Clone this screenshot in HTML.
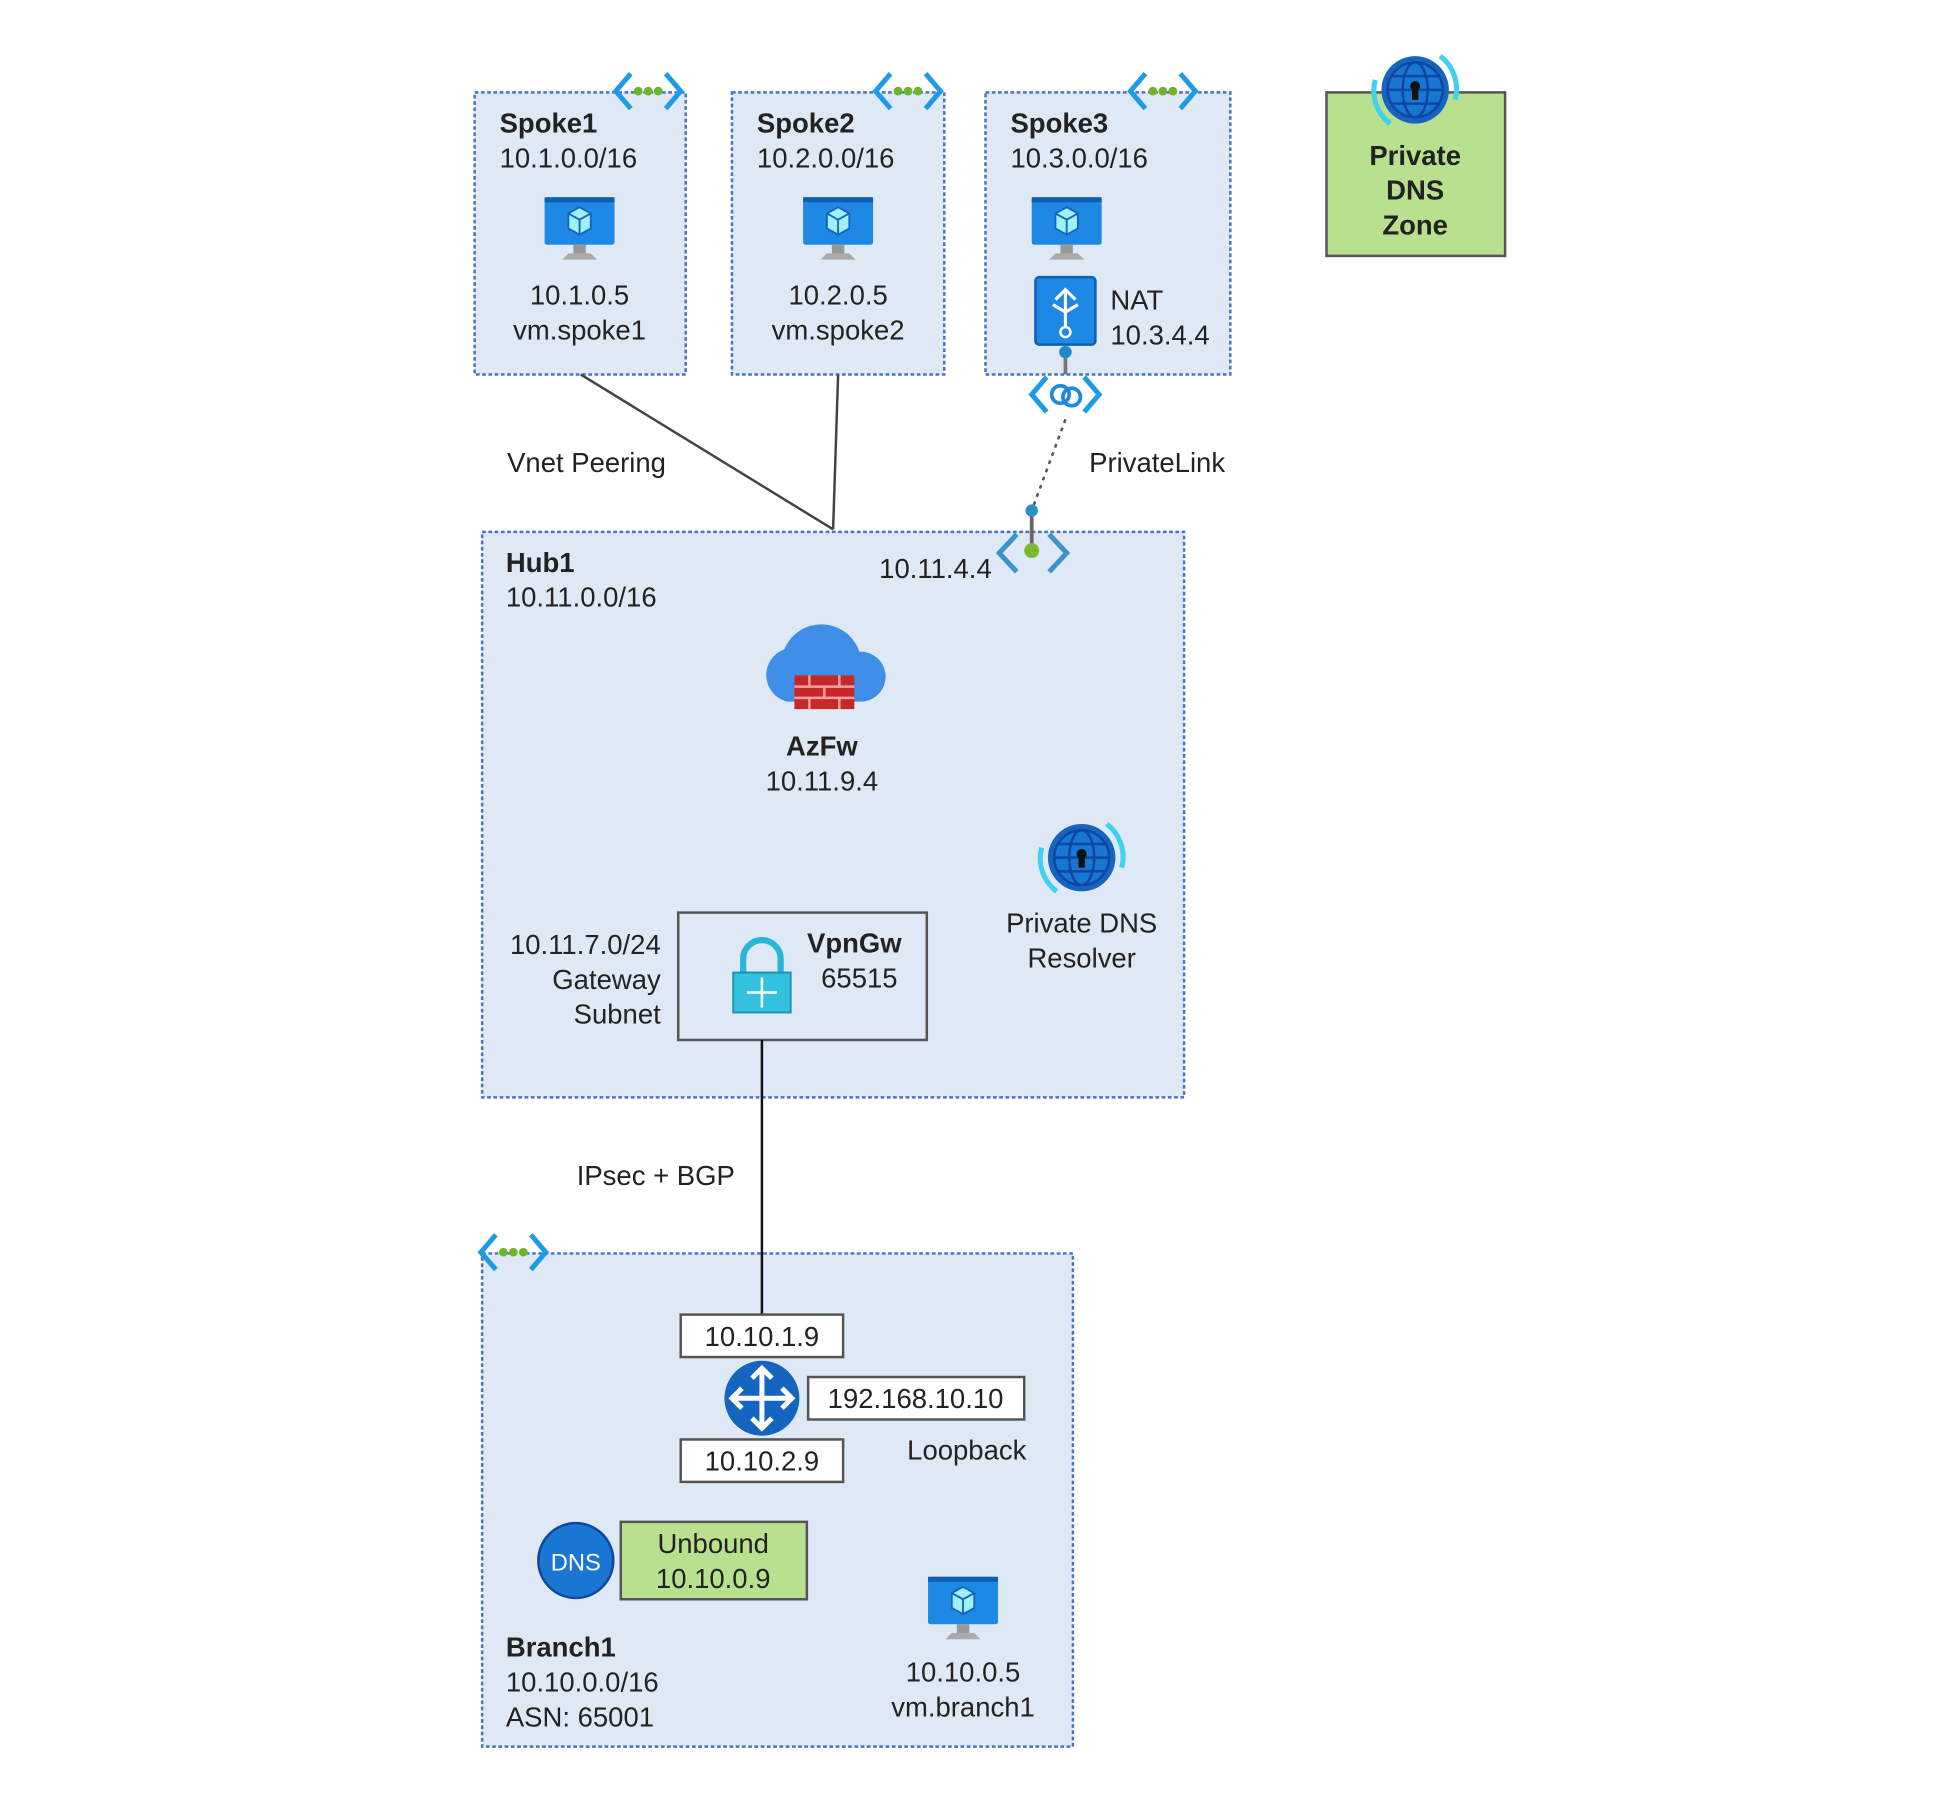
<!DOCTYPE html>
<html><head><meta charset="utf-8"><style>
html,body{margin:0;padding:0;background:#fff}
svg{display:block}
text{font-family:"Liberation Sans",sans-serif;fill:#222;font-size:22px}
.b{font-weight:bold}
</style></head><body>
<svg width="1956" height="1804" viewBox="0 0 1566 1445" preserveAspectRatio="none" xmlns="http://www.w3.org/2000/svg">
<defs>
<g id="vm">
<rect x="-28" y="-22" width="56" height="38" rx="2" fill="#1e88e5"/>
<rect x="-28" y="-22" width="56" height="4" fill="#0d5fb0"/>
<path d="M0,-14 L9,-9 L9,3 L0,8 L-9,3 L-9,-9Z" fill="#9ff0f8" stroke="#1565c0" stroke-width="1.5"/>
<path d="M-9,-9 L0,-4 L9,-9 M0,-4 L0,8" stroke="#1565c0" stroke-width="1.5" fill="none"/>
<rect x="-5" y="16" width="10" height="8" fill="#999"/>
<path d="M-14,28 L-9,23 L9,23 L14,28Z" fill="#aaa"/>
</g>
<g id="vnet">
<path d="M-14,-14 L-26,0 L-14,14" stroke="#1e9be8" stroke-width="4" fill="none"/>
<path d="M14,-14 L26,0 L14,14" stroke="#1e9be8" stroke-width="4" fill="none"/>
<circle cx="-8" cy="0" r="3.5" fill="#6fb52c"/><circle cx="0" cy="0" r="3.5" fill="#6fb52c"/><circle cx="8" cy="0" r="3.5" fill="#6fb52c"/>
</g>
<g id="globe">
<circle r="27" fill="#1565c0"/>
<circle r="22" fill="#1976d2" stroke="#0d47a1" stroke-width="2"/>
<ellipse rx="10" ry="22" fill="none" stroke="#0d47a1" stroke-width="2"/>
<path d="M-22,0 H22 M-19,-11 H19 M-19,11 H19" stroke="#0d47a1" stroke-width="2"/>
<circle cy="-3" r="4" fill="#111"/><rect x="-2.5" y="-2" width="5" height="10" fill="#111"/>
<path d="M-32,-8 A33,33 0 0 0 -20,27" stroke="#40d0f0" stroke-width="4" fill="none"/>
<path d="M32,8 A33,33 0 0 0 20,-27" stroke="#40d0f0" stroke-width="4" fill="none"/>
</g>
</defs>

<g fill="#dfe9f5" stroke="#4a72c8" stroke-width="2" stroke-dasharray="3,2">
<rect x="380" y="74" width="169" height="226"/>
<rect x="586" y="74" width="170" height="226"/>
<rect x="789" y="74" width="196" height="226"/>
<rect x="386" y="426" width="562" height="453"/>
<rect x="386" y="1004" width="473" height="395"/>
</g>
<use href="#vnet" x="519" y="73"/>
<use href="#vnet" x="727" y="73"/>
<use href="#vnet" x="931" y="73"/>
<use href="#vnet" x="411" y="1003"/>

<text x="400" y="106" class="b">Spoke1</text><text x="400" y="134">10.1.0.0/16</text>
<use href="#vm" x="464" y="180"/>
<text x="464" y="244" text-anchor="middle">10.1.0.5</text><text x="464" y="272" text-anchor="middle">vm.spoke1</text>

<text x="606" y="106" class="b">Spoke2</text><text x="606" y="134">10.2.0.0/16</text>
<use href="#vm" x="671" y="180"/>
<text x="671" y="244" text-anchor="middle">10.2.0.5</text><text x="671" y="272" text-anchor="middle">vm.spoke2</text>

<text x="809" y="106" class="b">Spoke3</text><text x="809" y="134">10.3.0.0/16</text>
<use href="#vm" x="854" y="180"/>
<rect x="829" y="222" width="48" height="54" rx="3" fill="#1e88e5" stroke="#0d5fb0" stroke-width="2"/>
<path d="M853,232 V262 M845,240 L853,232 L861,240 M853,250 L843,244 M853,250 L863,244" stroke="#fff" stroke-width="2.5" fill="none"/>
<circle cx="853" cy="266" r="4" fill="none" stroke="#fff" stroke-width="2"/>
<text x="889" y="248">NAT</text><text x="889" y="276">10.3.4.4</text>

<rect x="1062" y="74" width="143" height="131" fill="#b9e08e" stroke="#555" stroke-width="2"/>
<use href="#globe" x="1133" y="72"/>
<text x="1133" y="132" class="b" text-anchor="middle">Private</text>
<text x="1133" y="160" class="b" text-anchor="middle">DNS</text>
<text x="1133" y="188" class="b" text-anchor="middle">Zone</text>

<path d="M465,300 L667,424 M671,300 L667,424" stroke="#444" stroke-width="2" fill="none"/>
<text x="406" y="378">Vnet Peering</text>

<path d="M853,282 V300" stroke="#777" stroke-width="3"/>
<circle cx="853" cy="282" r="5" fill="#1e88c8"/>
<path d="M838,302 L826,316 L838,330 M868,302 L880,316 L868,330" stroke="#1e9be8" stroke-width="4" fill="none"/>
<circle cx="849" cy="316" r="7" fill="none" stroke="#1e88e5" stroke-width="3"/><circle cx="858" cy="318" r="7" fill="none" stroke="#1e88e5" stroke-width="3"/>
<path d="M853,336 L826,409" stroke="#555" stroke-width="2" stroke-dasharray="3,4"/>
<text x="872" y="378">PrivateLink</text>
<path d="M826,409 V441" stroke="#666" stroke-width="3"/>
<circle cx="826" cy="409" r="5" fill="#2d8fc8"/>
<path d="M814,428 L800,443 L814,458 M840,428 L854,443 L840,458" stroke="#3a94c8" stroke-width="4" fill="none"/>
<circle cx="826" cy="441" r="6" fill="#7cb82f"/>

<text x="405" y="458" class="b">Hub1</text><text x="405" y="486">10.11.0.0/16</text>
<text x="794" y="463" text-anchor="end">10.11.4.4</text>
<path d="M630,562 A22,22 0 0 1 628,520 A32,32 0 0 1 688,522 A20,20 0 0 1 690,562Z" fill="#3f8fe8"/>
<rect x="636" y="541" width="48" height="27" fill="#c62828"/>
<path d="M636,550 H684 M636,559 H684 M648,541 V550 M672,541 V550 M660,550 V559 M648,559 V568 M672,559 V568" stroke="#ff9ea0" stroke-width="2"/>
<text x="658" y="605" class="b" text-anchor="middle">AzFw</text>
<text x="658" y="633" text-anchor="middle">10.11.9.4</text>
<use href="#globe" x="866" y="687"/>
<text x="866" y="747" text-anchor="middle">Private DNS</text>
<text x="866" y="775" text-anchor="middle">Resolver</text>
<text x="529" y="764" text-anchor="end">10.11.7.0/24</text>
<text x="529" y="792" text-anchor="end">Gateway</text>
<text x="529" y="820" text-anchor="end">Subnet</text>
<rect x="543" y="731" width="199" height="102" fill="none" stroke="#555" stroke-width="2"/>
<path d="M595,780 V768 A15,15 0 0 1 625,768 V780" stroke="#29b6d8" stroke-width="5" fill="none"/>
<rect x="587" y="779" width="46" height="32" fill="#32c2e0" stroke="#1b8fb0" stroke-width="1.5"/>
<path d="M610,783 V807 M598,795 H622" stroke="#fff" stroke-width="2"/>
<text x="684" y="763" class="b" text-anchor="middle">VpnGw</text>
<text x="688" y="791" text-anchor="middle">65515</text>

<path d="M610,833 V1053" stroke="#111" stroke-width="2"/>
<text x="525" y="949" text-anchor="middle">IPsec + BGP</text>

<g fill="#fff" stroke="#555" stroke-width="2">
<rect x="545" y="1053" width="130" height="34"/>
<rect x="647" y="1103" width="173" height="34"/>
<rect x="545" y="1153" width="130" height="34"/>
</g>
<text x="610" y="1078" text-anchor="middle">10.10.1.9</text>
<text x="733" y="1128" text-anchor="middle">192.168.10.10</text>
<text x="610" y="1178" text-anchor="middle">10.10.2.9</text>
<text x="774" y="1169" text-anchor="middle">Loopback</text>
<circle cx="610" cy="1120" r="30" fill="#1565c0"/>
<path d="M610,1096 V1144 M586,1120 H634 M602,1104 L610,1096 L618,1104 M602,1136 L610,1144 L618,1136 M594,1112 L586,1120 L594,1128 M626,1112 L634,1120 L626,1128" stroke="#fff" stroke-width="4" fill="none"/>
<circle cx="461" cy="1250" r="30" fill="#1976d2" stroke="#0d47a1" stroke-width="2"/>
<text x="461" y="1258" text-anchor="middle" style="fill:#fff;font-size:19px">DNS</text>
<rect x="497" y="1219" width="149" height="62" fill="#b9e08e" stroke="#555" stroke-width="2"/>
<text x="571" y="1244" text-anchor="middle">Unbound</text>
<text x="571" y="1272" text-anchor="middle">10.10.0.9</text>
<use href="#vm" x="771" y="1285"/>
<text x="771" y="1347" text-anchor="middle">10.10.0.5</text>
<text x="771" y="1375" text-anchor="middle">vm.branch1</text>
<text x="405" y="1327" class="b">Branch1</text>
<text x="405" y="1355">10.10.0.0/16</text>
<text x="405" y="1383">ASN: 65001</text>
</svg>
</body></html>
